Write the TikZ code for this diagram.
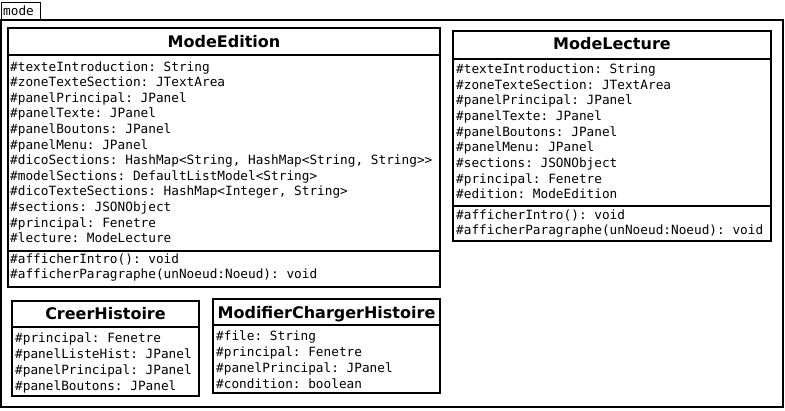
\documentclass[tikz,border=0pt]{standalone}
\usepackage{fontspec}
\setmainfont{DejaVu Sans}
\setsansfont{DejaVu Sans}
\setmonofont{DejaVu Sans Mono}
\begin{document}
\begin{tikzpicture}[x=1pt,y=-1pt,
  box/.style={draw=black, line width=1.6pt},
  frame/.style={draw=black, line width=2pt},
  tabline/.style={draw=black, line width=1pt},
  title/.style={font=\fontsize{16}{19}\selectfont\bfseries, inner sep=0pt, anchor=base},
  attr/.style={font=\fontsize{12.75}{15.6}\selectfont\ttfamily, inner sep=0pt, anchor=base west}]
\useasboundingbox (0,0) rectangle (785,410);
\fill[white] (0,0) rectangle (785,410);
% package tab and frame
\draw[tabline] (1,20) -- (1,2) -- (40,2) -- (40,20);
\node[attr] (tabtext) at (3,15) {mode};
\draw[frame] (1,20) rectangle (783,407);
% ModeEdition
\draw[box] (8,28) rectangle (440,287);
\draw[box] (8,55) -- (440,55);
\draw[box] (8,251) -- (440,251);
\node[title] (meT) at (224,47.3) {ModeEdition};
\foreach \t [count=\i from 0] in {{\#texteIntroduction: String},{\#zoneTexteSection: JTextArea},{\#panelPrincipal: JPanel},{\#panelTexte: JPanel},{\#panelBoutons: JPanel},{\#panelMenu: JPanel},{\#dicoSections: HashMap<String, HashMap<String, String>>},{\#modelSections: DefaultListModel<String>},{\#dicoTexteSections: HashMap<Integer, String>},{\#sections: JSONObject},{\#principal: Fenetre},{\#lecture: ModeLecture}}
  \node[attr] (meA\i) at (10,{71+15.6*\i}) {\t};
\node[attr] (meM0) at (10,263) {\#afficherIntro(): void};
\node[attr] (meM1) at (10,278.5) {\#afficherParagraphe(unNoeud:Noeud): void};
% ModeLecture
\draw[box] (453,31) rectangle (771,241);
\draw[box] (453,59) -- (771,59);
\draw[box] (453,206) -- (771,206);
\node[title] (mlT) at (612,49) {ModeLecture};
\foreach \t [count=\i from 0] in {{\#texteIntroduction: String},{\#zoneTexteSection: JTextArea},{\#panelPrincipal: JPanel},{\#panelTexte: JPanel},{\#panelBoutons: JPanel},{\#panelMenu: JPanel},{\#sections: JSONObject},{\#principal: Fenetre},{\#edition: ModeEdition}}
  \node[attr] (mlA\i) at (456,{73.3+15.7*\i}) {\t};
\node[attr] (mlM0) at (456,219.3) {\#afficherIntro(): void};
\node[attr] (mlM1) at (456,234.5) {\#afficherParagraphe(unNoeud:Noeud): void};
% CreerHistoire
\draw[box] (12,301) rectangle (199,396);
\draw[box] (12,327) -- (199,327);
\node[title] (chT) at (105.5,319.3) {CreerHistoire};
\foreach \t [count=\i from 0] in {{\#principal: Fenetre},{\#panelListeHist: JPanel},{\#panelPrincipal: JPanel},{\#panelBoutons: JPanel}}
  \node[attr] (chA\i) at (15,{342.7+15.8*\i}) {\t};
% ModifierChargerHistoire
\draw[box] (213,299) rectangle (440,393);
\draw[box] (213,325) -- (440,325);
\node[title] (mcT) at (326.5,318) {ModifierChargerHistoire};
\foreach \t [count=\i from 0] in {{\#file: String},{\#principal: Fenetre},{\#panelPrincipal: JPanel},{\#condition: boolean}}
  \node[attr] (mcA\i) at (216,{340.7+15.9*\i}) {\t};
\end{tikzpicture}
\end{document}
